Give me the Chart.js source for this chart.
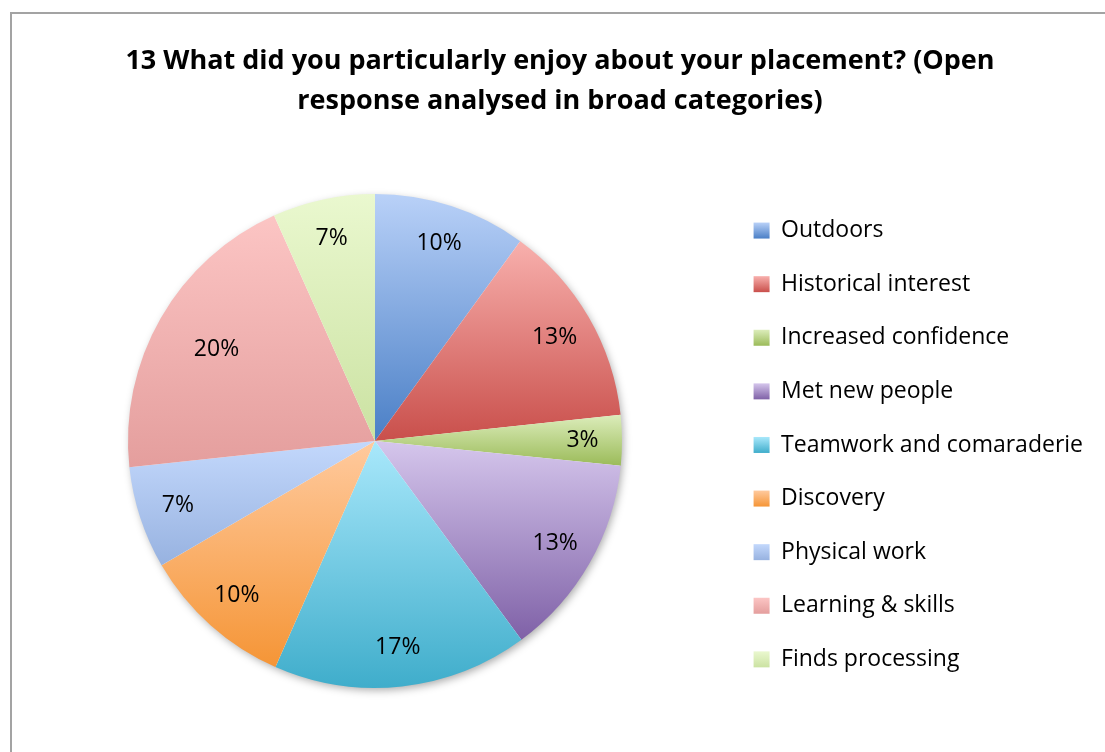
<!DOCTYPE html>
<html>
<head>
<meta charset="utf-8">
<script src="https://cdn.jsdelivr.net/npm/chart.js@4"></script>
<style>
	html, body { margin: 0; padding: 0; background: #fff; }
	#wrap { position: absolute; left: 0; top: 0; width: 1105px; height: 752px; }
	#frame { position: absolute; left: 10px; top: 12px; right: 0; bottom: 0; border-left: 2px solid #a3a3a3; border-top: 2px solid #a3a3a3; }
	canvas { position: absolute; left: 0; top: 0; }
</style>
</head>
<body>
<div id="wrap">
	<div id="frame"></div>
	<canvas id="pie" width="1105" height="752"></canvas>
</div>
<script>
// categories and shares (percent of responses)
const categories = ['Outdoors', 'Historical interest', 'Increased confidence', 'Met new people',
	'Teamwork and comaraderie', 'Discovery', 'Physical work', 'Learning & skills', 'Finds processing'];
const shares = [10, 13.3, 3.3, 13.3, 16.7, 10, 6.7, 20, 6.7];
const title_lines = ['13 What did you particularly enjoy about your placement? (Open',
	'response analysed in broad categories)'];

// light (top) and dark (bottom) end of each slice gradient
const top_colors = ['#b9d1f8', '#f8b0ad', '#dcedbb', '#d5c6ec', '#a9e8fb', '#ffca9e', '#c3d8fc', '#fcc5c4', '#eaf8cf'];
const bottom_colors = ['#4a7fc6', '#c94f4b', '#9bbb59', '#7f61a7', '#3fadcb', '#f59536', '#97b2e0', '#e49e9d', '#cbe2a2'];

const PIE_R = 247;
const font_family = '"Open Sans", Lato, sans-serif';

function slice_gradient(context) {
	const chart = context.chart;
	const area = chart.chartArea;
	const i = context.dataIndex;
	if (!area) return top_colors[i];
	const cx = (area.left + area.right) / 2;
	const cy = (area.top + area.bottom) / 2;
	const total = shares.reduce((a, b) => a + b, 0);
	let before = 0;
	for (let k = 0; k < i; k++) before += shares[k];
	const a0 = -Math.PI / 2 + before / total * 2 * Math.PI;
	const a1 = a0 + shares[i] / total * 2 * Math.PI;
	const ys = [cy, cy + PIE_R * Math.sin(a0), cy + PIE_R * Math.sin(a1)];
	// include top / bottom extreme points if the arc passes them
	[-Math.PI / 2, Math.PI / 2, 3 * Math.PI / 2].forEach(a => {
		if (a > a0 && a < a1) ys.push(cy + PIE_R * Math.sin(a));
	});
	const y0 = Math.min(...ys), y1 = Math.max(...ys);
	const g = chart.ctx.createLinearGradient(0, y0, 0, y1 + 0.01);
	g.addColorStop(0, top_colors[i]);
	g.addColorStop(1, bottom_colors[i]);
	return g;
}

// legend swatches get the same light-to-dark look once their boxes are placed
const legend_gradients = {
	id: 'legend_gradients',
	afterUpdate(chart) {
		const legend = chart.legend;
		if (!legend || !legend.legendHitBoxes) return;
		const ctx = chart.ctx;
		legend.legendItems.forEach((item, i) => {
			const hb = legend.legendHitBoxes[i];
			if (!hb) return;
			const top = hb.top + (hb.height - 16) / 2;
			const g = ctx.createLinearGradient(0, top, 0, top + 16);
			g.addColorStop(0, top_colors[i]);
			g.addColorStop(1, bottom_colors[i]);
			item.fillStyle = g;
		});
	}
};

const pie_shadow = {
	id: 'pie_shadow',
	beforeDatasetsDraw(chart) {
		const arc = chart.getDatasetMeta(0).data[0];
		if (!arc) return;
		const ctx = chart.ctx;
		ctx.save();
		ctx.shadowColor = 'rgba(0,0,0,0.35)';
		ctx.shadowBlur = 9;
		ctx.shadowOffsetX = 2;
		ctx.shadowOffsetY = 3;
		ctx.fillStyle = '#ffffff';
		ctx.beginPath();
		ctx.arc(arc.x, arc.y, arc.outerRadius - 1, 0, 2 * Math.PI);
		ctx.fill();
		ctx.restore();
	}
};

const pct_labels = {
	id: 'pct_labels',
	afterDatasetsDraw(chart) {
		const ctx = chart.ctx;
		const total = shares.reduce((a, b) => a + b, 0);
		ctx.save();
		ctx.font = '23px ' + font_family;
		ctx.fillStyle = '#000';
		ctx.textAlign = 'center';
		ctx.textBaseline = 'middle';
		chart.getDatasetMeta(0).data.forEach((arc, i) => {
			const mid = (arc.startAngle + arc.endAngle) / 2;
			// the largest slice keeps its label further in, as in the source chart
			const r = arc.outerRadius * (shares[i] >= 20 ? 0.74 : 0.84);
			ctx.fillText(Math.round(shares[i] / total * 100) + '%', arc.x + r * Math.cos(mid), arc.y + r * Math.sin(mid));
		});
		ctx.restore();
	}
};

const ctx = document.getElementById('pie').getContext('2d');
new Chart(ctx, {
	type: 'pie',
	data: {
		labels: categories,
		datasets: [{
			data: shares,
			backgroundColor: slice_gradient,
			borderWidth: 0
		}]
	},
	options: {
		responsive: false,
		animation: false,
		radius: PIE_R,
		layout: {
			padding: { top: 13, bottom: 10, left: 27, right: 12 }
		},
		plugins: {
			title: {
				display: true,
				text: title_lines,
				color: '#000',
				font: { family: font_family, size: 27, weight: 'bold', lineHeight: 1.48 },
				padding: { top: 28, bottom: 19 }
			},
			legend: {
				position: 'right',
				align: 'center',
				fullSize: false,
				onClick: function (e) {},
				// empty title only nudges the items down a few pixels
				title: { display: true, text: ' ', color: '#000', font: { size: 1 }, padding: { top: 3.4, bottom: 3.4 } },
				labels: {
					color: '#000',
					boxWidth: 16,
					boxHeight: 16,
					padding: 30.6,
					font: { family: font_family, size: 23 },
					generateLabels: function (chart) {
						return categories.map((c, i) => ({
							text: c,
							fillStyle: bottom_colors[i],
							strokeStyle: bottom_colors[i],
							fontColor: '#000',
							lineWidth: 0,
							index: i,
							hidden: false
						}));
					}
				}
			},
			tooltip: { enabled: false }
		}
	},
	plugins: [pie_shadow, pct_labels, legend_gradients]
});
</script>
</body>
</html>
